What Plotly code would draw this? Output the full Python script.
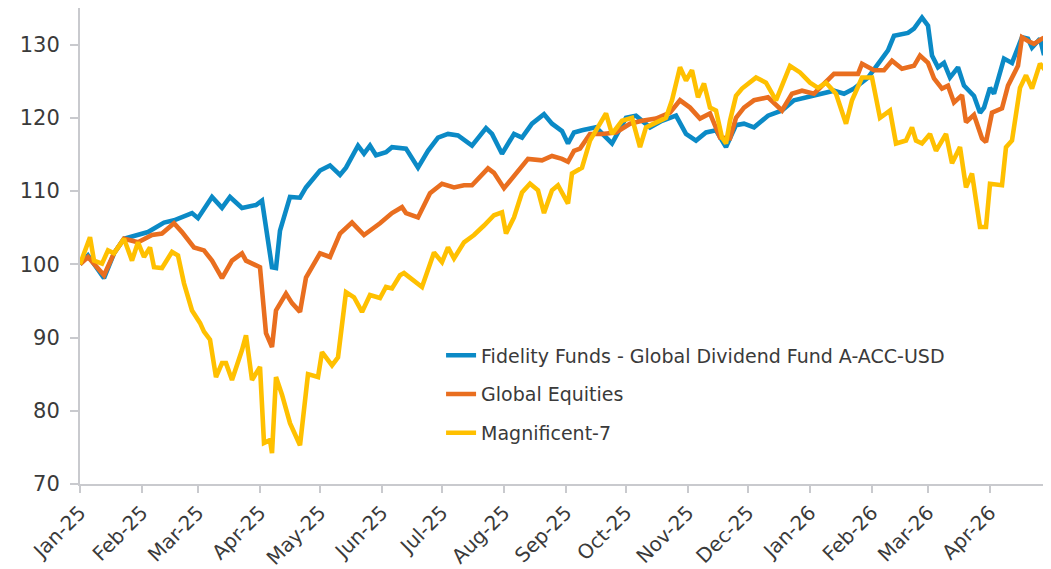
import plotly.graph_objects as go

# ---------------- data ----------------
fund_dates = [
    "2025-01-01", "2025-01-05", "2025-01-13", "2025-01-18", "2025-01-23", "2025-01-30",
    "2025-02-04", "2025-02-12", "2025-02-17", "2025-02-26", "2025-03-01", "2025-03-08",
    "2025-03-13", "2025-03-17", "2025-03-23", "2025-03-30", "2025-04-02", "2025-04-07",
    "2025-04-09", "2025-04-11", "2025-04-16", "2025-04-21", "2025-04-24", "2025-05-01",
    "2025-05-06", "2025-05-11", "2025-05-14", "2025-05-20", "2025-05-23", "2025-05-26",
    "2025-05-29", "2025-06-03", "2025-06-06", "2025-06-13", "2025-06-19", "2025-06-24",
    "2025-06-29", "2025-07-04", "2025-07-09", "2025-07-16", "2025-07-23", "2025-07-26",
    "2025-07-31", "2025-08-06", "2025-08-10", "2025-08-15", "2025-08-21", "2025-08-25",
    "2025-08-30", "2025-09-02", "2025-09-05", "2025-09-09", "2025-09-16", "2025-09-24",
    "2025-10-01", "2025-10-06", "2025-10-13", "2025-10-19", "2025-10-26", "2025-10-31",
    "2025-11-05", "2025-11-10", "2025-11-15", "2025-11-20", "2025-11-25", "2025-11-29",
    "2025-12-04", "2025-12-11", "2025-12-18", "2025-12-24", "2025-12-31", "2026-01-07",
    "2026-01-13", "2026-01-18", "2026-01-23", "2026-01-30", "2026-02-04", "2026-02-09",
    "2026-02-12", "2026-02-19", "2026-02-22", "2026-02-26", "2026-03-01", "2026-03-03",
    "2026-03-06", "2026-03-09", "2026-03-12", "2026-03-16", "2026-03-19", "2026-03-24",
    "2026-03-27", "2026-03-29", "2026-04-01", "2026-04-03", "2026-04-08", "2026-04-12",
    "2026-04-17", "2026-04-20", "2026-04-22", "2026-04-26", "2026-04-28", "2026-04-30",
]
fund_values = [
    100.0, 101.2, 98.1, 101.5, 103.5, 104.0,
    104.4, 105.7, 106.0, 107.0, 106.3, 109.2,
    107.7, 109.2, 107.7, 108.1, 108.7, 99.6,
    99.5, 104.6, 109.2, 109.1, 110.5, 112.8,
    113.5, 112.2, 113.2, 116.2, 115.1, 116.2,
    114.9, 115.3, 116.0, 115.8, 113.2, 115.5,
    117.3, 117.8, 117.6, 116.2, 118.6, 117.8,
    115.1, 117.8, 117.3, 119.2, 120.5, 119.2,
    118.2, 116.5, 118.0, 118.3, 118.7, 116.5,
    120.0, 120.3, 118.7, 119.6, 120.3, 117.8,
    116.9, 118.0, 118.3, 116.0, 119.0, 119.2,
    118.7, 120.3, 121.0, 122.4, 122.8, 123.3,
    123.7, 123.3, 124.0, 125.5, 127.4, 129.2,
    131.2, 131.6, 132.2, 133.7, 132.6, 128.5,
    126.9, 127.5, 125.5, 126.9, 124.4, 123.0,
    120.7, 121.4, 124.1, 123.3, 128.1, 127.5,
    131.0, 130.8, 129.6, 130.8, 128.6, 130.0,
]

equity_dates = [
    "2025-01-01", "2025-01-05", "2025-01-13", "2025-01-18", "2025-01-23", "2025-01-30",
    "2025-02-06", "2025-02-11", "2025-02-17", "2025-02-21", "2025-02-27", "2025-03-04",
    "2025-03-08", "2025-03-13", "2025-03-18", "2025-03-23", "2025-03-25", "2025-04-01",
    "2025-04-04", "2025-04-07", "2025-04-09", "2025-04-14", "2025-04-17", "2025-04-21",
    "2025-04-24", "2025-05-01", "2025-05-06", "2025-05-11", "2025-05-17", "2025-05-23",
    "2025-05-31", "2025-06-06", "2025-06-11", "2025-06-13", "2025-06-19", "2025-06-25",
    "2025-07-01", "2025-07-07", "2025-07-12", "2025-07-16", "2025-07-24", "2025-07-27",
    "2025-08-01", "2025-08-08", "2025-08-13", "2025-08-20", "2025-08-25", "2025-08-30",
    "2025-09-02", "2025-09-05", "2025-09-08", "2025-09-13", "2025-09-19", "2025-09-26",
    "2025-10-03", "2025-10-09", "2025-10-16", "2025-10-23", "2025-10-28", "2025-11-02",
    "2025-11-07", "2025-11-12", "2025-11-17", "2025-11-22", "2025-11-25", "2025-11-29",
    "2025-12-04", "2025-12-11", "2025-12-18", "2025-12-23", "2025-12-28", "2026-01-03",
    "2026-01-08", "2026-01-13", "2026-01-20", "2026-01-25", "2026-01-27", "2026-02-02",
    "2026-02-07", "2026-02-11", "2026-02-16", "2026-02-22", "2026-02-25", "2026-03-01",
    "2026-03-04", "2026-03-08", "2026-03-11", "2026-03-14", "2026-03-18", "2026-03-20",
    "2026-03-24", "2026-03-28", "2026-03-30", "2026-04-02", "2026-04-07", "2026-04-10",
    "2026-04-15", "2026-04-17", "2026-04-20", "2026-04-23", "2026-04-27", "2026-04-30",
]
equity_values = [
    100.0, 101.0, 98.5, 101.5, 103.5, 103.0,
    104.0, 104.2, 105.6, 104.4, 102.3, 101.9,
    100.5, 98.1, 100.5, 101.5, 100.5, 99.6,
    90.6, 88.7, 93.7, 96.0, 94.7, 93.5,
    98.2, 101.5, 101.0, 104.2, 105.7, 104.0,
    105.6, 107.0, 107.8, 107.0, 106.4, 109.7,
    111.0, 110.5, 110.8, 110.8, 113.1, 112.5,
    110.4, 112.8, 114.4, 114.2, 114.8, 114.4,
    114.0, 115.5, 115.8, 117.8, 117.8, 118.0,
    119.2, 119.6, 119.9, 120.7, 122.4, 121.4,
    119.9, 120.6, 117.3, 117.2, 120.0, 121.4,
    122.4, 122.8, 121.0, 123.3, 123.7, 123.3,
    124.7, 126.0, 126.0, 126.0, 127.4, 126.5,
    126.5, 127.8, 126.7, 127.1, 128.5, 127.5,
    125.4, 124.0, 124.4, 122.1, 123.1, 119.4,
    120.4, 117.2, 116.7, 120.7, 121.3, 124.4,
    127.1, 131.0, 130.5, 130.1, 130.8, 131.2,
]

mag7_dates = [
    "2025-01-01", "2025-01-06", "2025-01-08", "2025-01-12", "2025-01-15", "2025-01-18",
    "2025-01-23", "2025-01-27", "2025-01-30", "2025-02-02", "2025-02-05", "2025-02-07",
    "2025-02-11", "2025-02-16", "2025-02-19", "2025-02-22", "2025-02-26", "2025-03-02",
    "2025-03-04", "2025-03-07", "2025-03-10", "2025-03-13", "2025-03-15", "2025-03-18",
    "2025-03-23", "2025-03-25", "2025-03-28", "2025-04-01", "2025-04-03", "2025-04-06",
    "2025-04-07", "2025-04-09", "2025-04-12", "2025-04-16", "2025-04-21", "2025-04-25",
    "2025-04-30", "2025-05-02", "2025-05-07", "2025-05-10", "2025-05-14", "2025-05-18",
    "2025-05-22", "2025-05-26", "2025-05-31", "2025-06-03", "2025-06-06", "2025-06-10",
    "2025-06-12", "2025-06-17", "2025-06-21", "2025-06-27", "2025-07-01", "2025-07-04",
    "2025-07-07", "2025-07-12", "2025-07-17", "2025-07-22", "2025-07-27", "2025-07-31",
    "2025-08-02", "2025-08-06", "2025-08-10", "2025-08-14", "2025-08-18", "2025-08-21",
    "2025-08-25", "2025-08-28", "2025-09-02", "2025-09-04", "2025-09-09", "2025-09-13",
    "2025-09-18", "2025-09-21", "2025-09-24", "2025-09-29", "2025-10-04", "2025-10-08",
    "2025-10-11", "2025-10-16", "2025-10-21", "2025-10-24", "2025-10-28", "2025-10-31",
    "2025-11-03", "2025-11-06", "2025-11-09", "2025-11-12", "2025-11-15", "2025-11-18",
    "2025-11-20", "2025-11-22", "2025-11-25", "2025-11-28", "2025-12-05", "2025-12-10",
    "2025-12-15", "2025-12-22", "2025-12-27", "2026-01-01", "2026-01-05", "2026-01-09",
    "2026-01-14", "2026-01-19", "2026-01-22", "2026-01-27", "2026-02-01", "2026-02-05",
    "2026-02-10", "2026-02-13", "2026-02-18", "2026-02-21", "2026-02-23", "2026-02-26",
    "2026-03-02", "2026-03-05", "2026-03-10", "2026-03-13", "2026-03-17", "2026-03-20",
    "2026-03-23", "2026-03-27", "2026-03-30", "2026-04-01", "2026-04-07", "2026-04-09",
    "2026-04-12", "2026-04-16", "2026-04-19", "2026-04-22", "2026-04-26", "2026-04-30",
]
mag7_values = [
    100.0, 103.7, 100.5, 100.1, 101.9, 101.5,
    103.5, 100.5, 103.0, 101.0, 102.3, 99.6,
    99.5, 101.7, 101.2, 97.4, 93.7, 92.0,
    90.8, 89.7, 84.6, 86.5, 86.5, 84.2,
    88.3, 90.3, 84.2, 86.0, 75.6, 76.0,
    74.2, 84.6, 82.2, 78.3, 75.3, 85.0,
    84.6, 88.0, 86.2, 87.3, 96.2, 95.5,
    93.5, 95.8, 95.4, 96.9, 96.7, 98.5,
    98.8, 97.8, 96.9, 101.6, 100.3, 102.3,
    100.8, 103.0, 104.0, 105.3, 106.7, 107.1,
    104.2, 106.4, 109.8, 111.0, 110.1, 107.0,
    110.1, 110.8, 108.3, 112.4, 113.2, 116.9,
    119.2, 120.6, 117.8, 119.6, 120.0, 116.0,
    118.7, 119.4, 120.0, 122.4, 126.9, 125.1,
    126.5, 122.8, 124.7, 121.4, 121.0, 117.3,
    116.5, 119.6, 123.0, 124.0, 125.5, 124.8,
    122.4, 127.1, 126.2, 124.8, 124.1, 124.8,
    123.3, 119.2, 122.4, 125.5, 125.5, 120.0,
    121.0, 116.5, 116.9, 118.7, 116.9, 116.5,
    117.8, 115.5, 117.8, 113.8, 116.0, 110.5,
    112.4, 105.1, 105.1, 111.0, 110.8, 116.0,
    116.9, 124.1, 125.8, 124.0, 127.4, 126.0,
]

series_names = [
    "Fidelity Funds - Global Dividend Fund A-ACC-USD",
    "Global Equities",
    "Magnificent-7",
]
series_colors = ["#0B8AC6", "#E96E1F", "#FFC000"]

# ---------------- figure ----------------
fig = go.Figure()
for name, xs, ys, col in [
    (series_names[0], fund_dates, fund_values, series_colors[0]),
    (series_names[1], equity_dates, equity_values, series_colors[1]),
    (series_names[2], mag7_dates, mag7_values, series_colors[2]),
]:
    fig.add_trace(go.Scatter(
        x=xs, y=ys, mode="lines", name=name, legendgroup=name,
        line=dict(color=col, width=4.6),
    ))

axis_col = "#C9CACE"
font_col = "#3A3A3A"
fam = "DejaVu Sans, Liberation Sans, Arial, sans-serif"
# the page body adds an 8px offset, so the figure is sized to fit the window
fig.update_layout(
    width=1043, height=561,
    paper_bgcolor="white", plot_bgcolor="white",
    margin=dict(l=72, r=3, t=0, b=85, autoexpand=False),
    font=dict(family=fam, size=20, color=font_col),
    showlegend=True,
    legend=dict(
        x=0.373, y=0.31, xanchor="left", yanchor="top",
        bgcolor="rgba(0,0,0,0)", font=dict(family=fam, size=19, color=font_col),
        traceorder="grouped", tracegroupgap=11,
    ),
)
fig.update_xaxes(
    range=["2025-01-01", "2026-04-30"],
    dtick="M1", tick0="2025-01-01", tickformat="%b-%y", tickangle=-45,
    showgrid=False, zeroline=False, automargin=False,
    showline=True, linecolor=axis_col, linewidth=2,
    ticks="outside", ticklen=7, tickwidth=2, tickcolor=axis_col,
    tickfont=dict(family=fam, size=20, color=font_col),
)
fig.update_yaxes(
    range=[70, 135], tickvals=[70, 80, 90, 100, 110, 120, 130],
    showgrid=False, zeroline=False, automargin=False,
    showline=True, linecolor=axis_col, linewidth=2,
    ticks="outside", ticklen=8, tickwidth=2, tickcolor=axis_col,
    ticklabelstandoff=6,
    tickfont=dict(family=fam, size=21, color=font_col),
)

fig.write_html("out.html")
